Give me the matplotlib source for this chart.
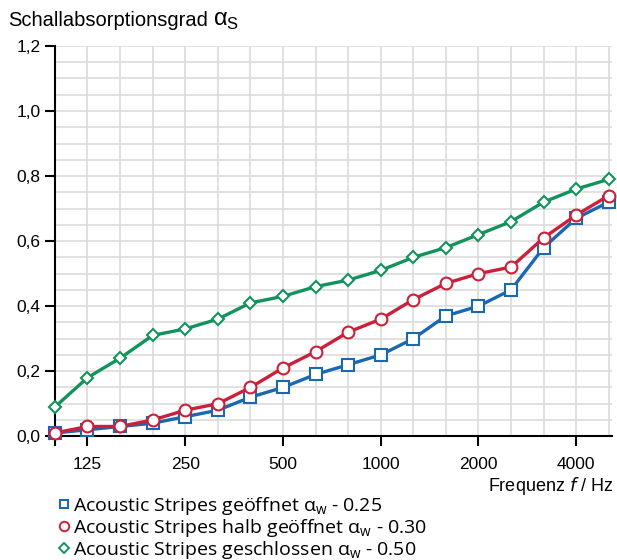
import matplotlib
matplotlib.use('Agg')
import matplotlib.pyplot as plt
from matplotlib.ticker import MultipleLocator, FixedLocator
from matplotlib.lines import Line2D

freqs = [100, 125, 160, 200, 250, 315, 400, 500, 630, 800, 1000, 1250,
         1600, 2000, 2500, 3150, 4000, 5000]
tick_labels = ['', '125', '250', '500', '1000', '2000', '4000']
tick_freqs = [100, 125, 250, 500, 1000, 2000, 4000]

offen = [0.01, 0.02, 0.03, 0.04, 0.06, 0.08, 0.12, 0.15, 0.19, 0.22, 0.25,
         0.30, 0.37, 0.40, 0.45, 0.58, 0.67, 0.72]
halb = [0.01, 0.03, 0.03, 0.05, 0.08, 0.10, 0.15, 0.21, 0.26, 0.32, 0.36,
        0.42, 0.47, 0.50, 0.52, 0.61, 0.68, 0.74]
zu = [0.09, 0.18, 0.24, 0.31, 0.33, 0.36, 0.41, 0.43, 0.46, 0.48, 0.51,
      0.55, 0.58, 0.62, 0.66, 0.72, 0.76, 0.79]

names = ['Acoustic Stripes geöffnet α$_\\mathregular{w}$ - 0.25',
         'Acoustic Stripes halb geöffnet α$_\\mathregular{w}$ - 0.30',
         'Acoustic Stripes geschlossen α$_\\mathregular{w}$ - 0.50']

blue = '#1a68b2'
red = '#cc1f3a'
green = '#12935c'

plt.rcParams['font.family'] = ['Liberation Sans', 'DejaVu Sans']

fig = plt.figure(figsize=(6.17, 5.6), dpi=100)
ax = fig.add_axes([0.089, 0.221, 0.903, 0.697])

x = list(range(len(freqs)))
series = [(offen, blue, 's', 8), (halb, red, 'o', 8.5), (zu, green, 'D', 6)]
handles = []
for (vals, col, mk, ms), name in zip(series, names):
    ax.plot(x, vals, color=col, lw=2.4, marker=mk, ms=ms,
            mfc='white', mec=col, mew=1.5, clip_on=False, zorder=3)
    handles.append(Line2D([], [], ls='none', marker=mk, ms=ms * 0.8,
                          mfc='white', mec=col, mew=1.4, label=name))

ax.set_xlim(0, 17.1)
ax.set_ylim(0, 1.2)

ax.xaxis.set_major_locator(FixedLocator([freqs.index(f) for f in tick_freqs]))
ax.set_xticklabels(tick_labels)
ax.xaxis.set_minor_locator(FixedLocator(x))
ax.yaxis.set_minor_locator(MultipleLocator(0.05))
ax.set_yticks([0, 0.2, 0.4, 0.6, 0.8, 1.0, 1.2])
ax.set_yticklabels(['0,0', '0,2', '0,4', '0,6', '0,8', '1,0', '1,2'])

ax.grid(which='both', color='#dcdcdc', lw=1.2, zorder=0)
ax.set_axisbelow(True)
for s in ['top', 'right']:
    ax.spines[s].set_visible(False)
for s in ['left', 'bottom']:
    ax.spines[s].set_linewidth(1.5)
ax.tick_params(which='major', length=7, width=1.5, labelsize=12.5, direction='out')
ax.tick_params(axis='x', pad=8)
ax.tick_params(which='minor', length=0)

t = fig.text(0.013, 0.964, 'Schallabsorptionsgrad', fontsize=14.5, va='center')
fig.canvas.draw()
bb = t.get_window_extent()
fig.text((bb.x1 + 5) / fig.bbox.width, 0.962, 'α$_\\mathregular{S}$',
         fontsize=17, va='center')
fig.text(0.995, 0.132, 'Frequenz $f$ / Hz', fontsize=13, ha='right', va='center')

fig.legend(handles=handles, loc='upper left', bbox_to_anchor=(0.078, 0.133),
           frameon=False, handlelength=0.6, handletextpad=0.2,
           labelspacing=0.0, borderpad=0, prop={'family': 'Open Sans', 'size': 14})

fig.savefig('out.png', dpi=100)
